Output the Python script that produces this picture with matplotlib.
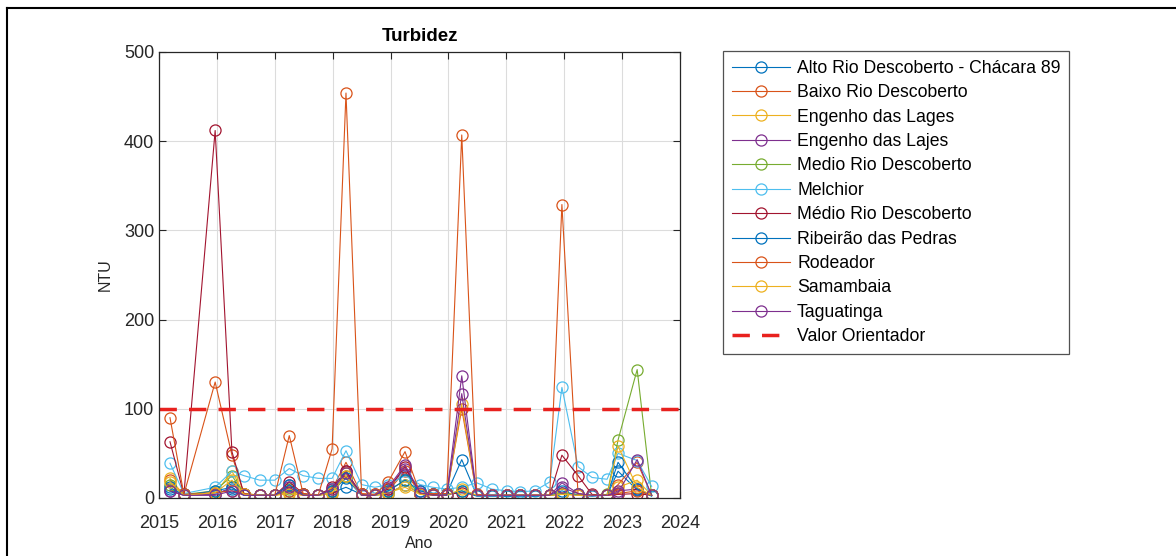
# Turbidez - series temporais por ponto de coleta

import numpy as np
import matplotlib.pyplot as plt
from matplotlib.lines import Line2D

# datas de coleta (ano decimal)
datas = [2015.19, 2015.43, 2015.97, 2016.26, 2016.47, 2016.74, 2017.00, 2017.25,
         2017.49, 2017.75, 2017.99, 2018.23, 2018.50, 2018.73, 2018.96, 2019.25,
         2019.51, 2019.73, 2019.97, 2020.23, 2020.49, 2020.75, 2021.01, 2021.24,
         2021.49, 2021.75, 2021.96, 2022.24, 2022.48, 2022.74, 2022.93, 2023.26,
         2023.51]

pontos = ['Alto Rio Descoberto - Chácara 89', 'Baixo Rio Descoberto',
          'Engenho das Lages', 'Engenho das Lajes', 'Medio Rio Descoberto',
          'Melchior', 'Médio Rio Descoberto', 'Ribeirão das Pedras',
          'Rodeador', 'Samambaia', 'Taguatinga']

alto_rio_descoberto = [10, 4, 5, 10, 4, 3, 3, 8, 4, 3, 6, 12, 4, 3, 5, 15, 5,
                       4, 5, 43, 3, 3, 3, 3, 3, 3, 5, 4, 3, 3, 30, 9, 3]
baixo_rio_descoberto = [20, 4, 130, 48, 4, 3, 3, 8, 4, 3, 10, 40, 4, 3, 8, 30, 5,
                        4, 5, 100, 3, 3, 3, 3, 3, 3, 5, 3, 3, 3, 15, 40, 3]
engenho_lages = [22, 3, 5, 30, 5, 3, 3, 6, 3, 3, 5, 28, 3, 3, 5, 15, 5,
                 3, 3, 105, 3, 3, 3, 3, 3, 3, 6, 3, 3, 3, 12, 20, 3]
engenho_lajes = [8, 3, 4, 12, 3, 3, 3, 15, 4, 3, 8, 30, 3, 3, 10, 33, 8,
                 4, 4, 137, 3, 3, 3, 3, 3, 3, 17, 5, 3, 3, 8, 10, 3]
medio_rio_descoberto = [15, 4, 8, 25, 5, 3, 3, 10, 4, 3, 8, 25, 4, 3, 8, 20, 5,
                        3, 4, 8, 3, 3, 3, 3, 3, 3, 5, 4, 3, 4, 65, 144, 3]
melchior = [39, 5, 12, 30, 25, 20, 20, 33, 25, 22, 22, 53, 15, 12, 15, 25, 15,
            12, 10, 12, 17, 10, 8, 7, 8, 18, 124, 35, 23, 21, 50, 42, 13]
medio_rio_descoberto_2 = [63, 4, 412, 52, 4, 3, 3, 18, 5, 3, 12, 30, 4, 4, 10, 35, 5,
                          4, 4, 6, 3, 3, 3, 3, 3, 3, 48, 25, 4, 3, 4, 5, 3]
ribeirao_pedras = [12, 3, 8, 12, 3, 3, 3, 15, 3, 3, 8, 22, 3, 3, 8, 20, 8,
                   5, 4, 8, 2, 2, 2, 2, 2, 3, 8, 3, 2, 3, 40, 10, 2]
rodeador = [90, 4, 6, 8, 5, 3, 3, 70, 5, 3, 55, 454, 5, 4, 18, 52, 5,
            5, 5, 407, 4, 3, 3, 3, 3, 3, 329, 3, 3, 3, 5, 8, 3]
samambaia = [18, 3, 6, 20, 4, 3, 3, 5, 3, 3, 6, 25, 3, 3, 6, 12, 4,
             3, 3, 10, 3, 3, 3, 3, 3, 3, 4, 3, 3, 3, 58, 12, 3]
taguatinga = [8, 3, 3, 8, 3, 3, 3, 12, 3, 3, 10, 28, 3, 3, 12, 37, 6,
              3, 3, 117, 3, 3, 3, 3, 3, 3, 12, 5, 3, 3, 6, 43, 3]

series = [alto_rio_descoberto, baixo_rio_descoberto, engenho_lages, engenho_lajes,
          medio_rio_descoberto, melchior, medio_rio_descoberto_2, ribeirao_pedras,
          rodeador, samambaia, taguatinga]

valor_orientador = 100

# cores padrao do MATLAB
cores = ['#0072BD', '#D95319', '#EDB120', '#7E2F8E', '#77AC30', '#4DBEEE',
         '#A2142F', '#0072BD', '#D95319', '#EDB120', '#7E2F8E']

plt.rcParams['font.family'] = ['Liberation Sans', 'DejaVu Sans']
texto = '#262626'

fig = plt.figure(figsize=(11.76, 5.56), dpi=100)
ax = fig.add_axes([159 / 1176, 1 - 498 / 556, 521 / 1176, 446 / 556])

for nome, valores, cor in zip(pontos, series, cores):
    ax.plot(datas, valores, '-o', color=cor, lw=0.8, markersize=8,
            markerfacecolor='none', markeredgewidth=0.9, label=nome)

ax.axhline(valor_orientador, color='#E8211E', lw=2.5, ls=(0, (5, 3.5)),
           label='Valor Orientador')

ax.set_xlim(2015, 2024)
ax.set_ylim(0, 500)
ax.set_xticks(range(2015, 2025))
ax.set_yticks(range(0, 501, 100))
ax.grid(True, color='#dcdcdc', lw=0.8)
ax.set_axisbelow(True)
ax.tick_params(direction='in', length=5, top=True, right=True,
               labelsize=13, colors=texto)
ax.tick_params(axis='x', pad=12)
for s in ax.spines.values():
    s.set_color(texto)
    s.set_linewidth(0.9)

ax.set_title('Turbidez', fontsize=13.5, fontweight='bold', color='black', pad=8)
ax.set_xlabel('Ano', fontsize=11.5, color=texto, labelpad=3)
ax.set_ylabel('NTU', fontsize=11.5, color=texto, labelpad=8)

leg = fig.legend(*ax.get_legend_handles_labels(), loc='upper left',
                 bbox_to_anchor=(723 / 1176, 1 - 51 / 556), fontsize=12.7,
                 frameon=True, fancybox=False, handlelength=3.3,
                 handletextpad=0.4, labelspacing=0.42, borderpad=0.5,
                 borderaxespad=0)
leg.get_frame().set_edgecolor(texto)
leg.get_frame().set_linewidth(0.9)
for t in leg.get_texts():
    t.set_color('black')

# moldura da captura de tela
fig.add_artist(Line2D([6.5 / 1176, 6.5 / 1176], [0, 1 - 7.5 / 556],
                      color='black', lw=1.5))
fig.add_artist(Line2D([6.5 / 1176, 1], [1 - 7.5 / 556, 1 - 7.5 / 556],
                      color='black', lw=1.5))

plt.savefig('out.png', dpi=100)
